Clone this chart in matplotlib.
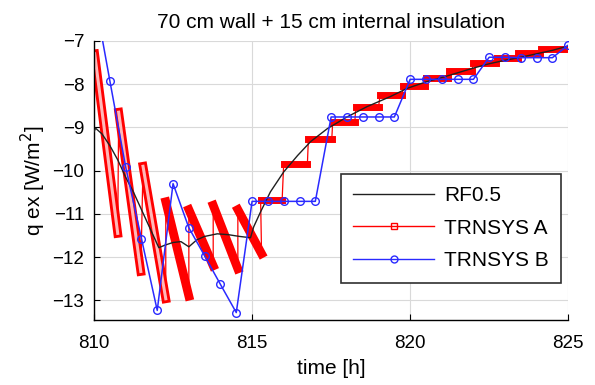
import matplotlib
matplotlib.use('Agg')
import matplotlib.pyplot as plt
from matplotlib.lines import Line2D

plt.rcParams['font.family'] = ['Liberation Sans', 'DejaVu Sans']

# RF0.5 reference curve
rf_t = [810.0, 810.05, 810.25, 810.5, 810.75, 811.0, 811.25, 811.5, 811.75, 812.05,
        812.25, 812.5, 812.75, 813.0, 813.25, 813.5, 813.9, 814.25, 814.6, 814.95,
        815.05, 815.27, 815.58, 816.0, 816.44, 816.85, 817.38, 818.0, 818.64, 819.37,
        819.9, 820.5, 821.0, 821.5, 822.0, 822.5, 823.0, 823.5, 824.0, 824.5, 825.0]
rf_q = [-9.1, -9.02, -9.15, -9.42, -9.75, -10.15, -10.5, -10.9, -11.3, -11.78,
        -11.72, -11.66, -11.64, -11.76, -11.6, -11.52, -11.46, -11.48, -11.52, -11.55,
        -11.3, -10.95, -10.49, -10.03, -9.65, -9.33, -9.03, -8.76, -8.52, -8.29,
        -8.1, -7.95, -7.85, -7.74, -7.63, -7.53, -7.45, -7.38, -7.3, -7.22, -7.12]

# TRNSYS A: segments (start time, start value, end time, end value)
a_t0 = [810.02, 810.78, 811.55, 812.27, 813.0, 813.77, 814.55,
        815.27, 816.0, 816.78, 817.55, 818.28, 819.05, 819.78,
        820.5, 821.22, 822.0, 822.75, 823.42, 824.15]
a_q0 = [-7.3, -8.65, -9.9, -10.72, -10.9, -10.8, -10.9,
        -10.69, -9.84, -9.28, -8.88, -8.53, -8.25, -8.04,
        -7.85, -7.69, -7.52, -7.4, -7.28, -7.2]
a_t1 = [810.75, 811.48, 812.27, 813.0, 813.77, 814.55, 815.3,
        815.95, 816.75, 817.52, 818.25, 819.0, 819.75, 820.48,
        821.2, 821.95, 822.72, 823.4, 824.12, 825.0]
a_q1 = [-11.45, -12.33, -12.96, -12.9, -12.2, -12.27, -11.92,
        -10.69, -9.84, -9.28, -8.88, -8.53, -8.25, -8.04,
        -7.85, -7.69, -7.52, -7.4, -7.28, -7.2]
a_pre_t, a_pre_q = 809.99, -11.45

# TRNSYS B: half-hourly values
b_t = [810.0, 810.5, 811.0, 811.5, 812.0, 812.5, 813.0, 813.5, 814.0, 814.5,
       815.0, 815.5, 816.0, 816.5, 817.0, 817.5, 818.0, 818.5, 819.0, 819.5,
       820.0, 820.5, 821.0, 821.5, 822.0, 822.5, 823.0, 823.5, 824.0, 824.5, 825.0]
b_q = [-5.9, -7.92, -9.91, -11.57, -13.23, -10.3, -11.32, -11.97, -12.63, -13.28,
       -10.71, -10.71, -10.71, -10.71, -10.71, -8.76, -8.76, -8.76, -8.76, -8.76,
       -7.89, -7.89, -7.89, -7.89, -7.89, -7.38, -7.38, -7.39, -7.39, -7.39, -7.1]

red = '#ff0000'
blue = '#2a2aff'

fig = plt.figure(figsize=(5.95, 3.85), dpi=100)
ax = fig.add_axes([0.158, 0.169, 0.797, 0.725])

ax.plot(rf_t, rf_q, color='#202020', lw=1.0, zorder=3)

# thin connecting line for TRNSYS A
a_line_t = [a_pre_t]
a_line_q = [a_pre_q]
for t0, q0, t1, q1 in zip(a_t0, a_q0, a_t1, a_q1):
    a_line_t += [t0, t1]
    a_line_q += [q0, q1]
ax.plot(a_line_t, a_line_q, color=red, lw=0.9, zorder=2)

# dense square markers drawn as thick bands
for i, (t0, q0, t1, q1) in enumerate(zip(a_t0, a_q0, a_t1, a_q1)):
    sloped = q0 != q1
    ax.plot([t0, t1], [q0, q1], color=red, lw=6.3 if sloped else 5.0,
            solid_capstyle='projecting', zorder=2)
    if i < 3:
        ax.plot([t0, t1], [q0, q1], color='#ffb8b8', lw=2.2, zorder=2)

ax.plot(b_t, b_q, color=blue, lw=1.1, marker='o', ms=5.5, mfc='none', mew=1.0, zorder=4)

ax.set_xlim(810, 825)
ax.set_ylim(-13.45, -7)
ax.set_xticks([810, 815, 820, 825])
ax.set_yticks([-13, -12, -11, -10, -9, -8, -7])
ax.grid(True, color='#d9d9d9', lw=0.8)
ax.set_axisbelow(True)
for s in ['top', 'right']:
    ax.spines[s].set_visible(False)
ax.spines['left'].set_linewidth(1.0)
ax.spines['bottom'].set_linewidth(1.0)
ax.tick_params(direction='in', length=4, labelsize=13.5)
ax.tick_params(axis='x', pad=11)
ax.tick_params(axis='y', pad=7)

ax.set_xlabel('time [h]', fontsize=15, labelpad=5)
ax.set_ylabel('q ex [W/m$^2$]', fontsize=15, labelpad=3)
ax.set_title('70 cm wall + 15 cm internal insulation', fontsize=15, pad=9)

handles = [
    Line2D([], [], color='#202020', lw=1.0),
    Line2D([], [], color=red, lw=1.0, marker='s', ms=5, mfc='none'),
    Line2D([], [], color=blue, lw=1.0, marker='o', ms=5, mfc='none'),
]
leg = ax.legend(handles, ['RF0.5', 'TRNSYS A', 'TRNSYS B'], loc='lower right',
                bbox_to_anchor=(0.985, 0.133), fontsize=15, fancybox=False,
                framealpha=1, edgecolor='#303030', handlelength=3.9,
                handletextpad=0.45, borderpad=0.6, labelspacing=0.65,
                borderaxespad=0)
leg.get_frame().set_linewidth(1.2)
leg.set_zorder(10)

fig.savefig('out.png', dpi=100)
